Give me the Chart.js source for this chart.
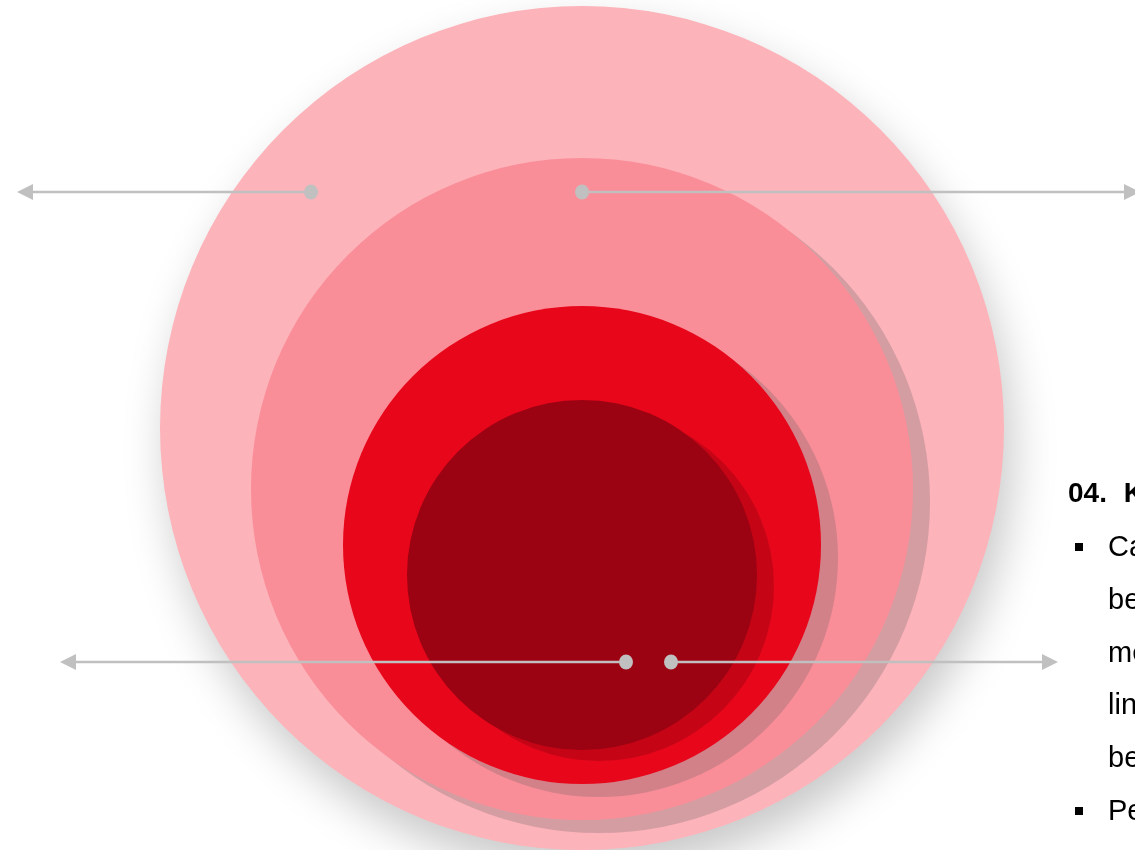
<!DOCTYPE html>
<html>
<head>
<meta charset="utf-8">
<script src="https://cdn.jsdelivr.net/npm/chart.js@4.4.1/dist/chart.umd.min.js"></script>
<style>
	html, body { margin: 0; padding: 0; background: #fff; overflow: hidden; }
	#wrap { position: relative; width: 1135px; height: 850px; overflow: hidden; }
	#chart { position: absolute; left: 0; top: 0; }
	#notes {
		position: absolute; left: 1068px; top: 473px;
		font-family: "Liberation Sans", Arial, sans-serif; color: #000;
		white-space: nowrap;
	}
	#notes .title { font-weight: bold; font-size: 28px; line-height: 40px; word-spacing: 9px; margin-bottom: 7px; }
	#notes .line { font-size: 29px; line-height: 52.8px; padding-left: 40px; position: relative; }
	#notes .sq { position: absolute; left: 7px; top: 23px; width: 8px; height: 8px; background: #000; }
</style>
</head>
<body>
<div id="wrap">
	<canvas id="chart" width="1135" height="850"></canvas>
	<div id="notes">
		<div class="title">04. Key findings</div>
		<div class="line"><span class="sq"></span>Campaign reach has</div>
		<div class="line">been growing steadily,</div>
		<div class="line">more than in the</div>
		<div class="line">linked segments that</div>
		<div class="line">benefit less</div>
		<div class="line"><span class="sq"></span>Performance remains</div>
	</div>
</div>
<script>
(() => {
	'use strict'

	// Circles (outer to inner), in the 1135 x 850 coordinate space
	const circleNames = ['Total', 'Segment A', 'Segment B', 'Core'];
	const circleX = [582, 582, 582, 582];
	const circleY = [428, 489, 545, 575];
	const circleR = [422, 331, 239, 175];
	const circleColors = ['#FDB3BA', '#FA8E98', '#E8061B', '#9C0312'];

	// Call-out arrows: start dot -> arrow head
	const arrowStartX = [311, 582, 626, 671];
	const arrowEndX = [17, 1140, 60, 1058];
	const arrowY = [192, 192, 662, 662];

	// Shadow style for each circle
	const shadows = [
		{ color: 'rgba(0,0,0,0.22)', blur: 45, dx: 8, dy: 22 },
		{ color: 'rgba(93,93,93,0.25)', blur: 0, dx: 17, dy: 13 },
		{ color: 'rgba(93,93,93,0.25)', blur: 0, dx: 17, dy: 13 },
		{ color: 'rgba(0,0,0,0.15)', blur: 0, dx: 17, dy: 11 }
	];

	// the chart area spans the whole canvas, 1 data unit = 1 pixel
	const datasets = circleNames.map((name, i) => ({
		label: name,
		data: [{ x: circleX[i], y: circleY[i], r: circleR[i] }],
		backgroundColor: circleColors[i],
		borderWidth: 0,
		clip: false,
		order: circleNames.length - i
	}));

	// Shadows drawn per dataset
	const shadowPlugin = {
		id: 'circleShadow',
		beforeDatasetDraw(chart, args) {
			const s = shadows[args.index];
			const ctx = chart.ctx;
			ctx.save();
			ctx.shadowColor = s.color;
			ctx.shadowBlur = s.blur;
			ctx.shadowOffsetX = s.dx;
			ctx.shadowOffsetY = s.dy;
		},
		afterDatasetDraw(chart) {
			chart.ctx.restore();
		}
	};

	// Grey call-out lines with dot and arrow head
	const arrowPlugin = {
		id: 'callouts',
		afterDatasetsDraw(chart) {
			const ctx = chart.ctx;
			const xs = chart.scales.x;
			const ys = chart.scales.y;
			ctx.save();
			ctx.strokeStyle = '#C0C0C0';
			ctx.fillStyle = '#C0C0C0';
			ctx.lineWidth = 2.5;
			for (let i = 0; i < arrowY.length; i++) {
				const x0 = xs.getPixelForValue(arrowStartX[i]);
				const x1 = xs.getPixelForValue(arrowEndX[i]);
				const y = ys.getPixelForValue(arrowY[i]);
				const dir = x1 > x0 ? 1 : -1;
				ctx.beginPath();
				ctx.moveTo(x0, y);
				ctx.lineTo(x1 - dir * 14, y);
				ctx.stroke();
				ctx.beginPath();
				ctx.moveTo(x1, y);
				ctx.lineTo(x1 - dir * 16, y - 8);
				ctx.lineTo(x1 - dir * 16, y + 8);
				ctx.closePath();
				ctx.fill();
				ctx.beginPath();
				ctx.ellipse(x0, y, 7, 7.5, 0, 0, Math.PI * 2);
				ctx.fill();
			}
			ctx.restore();
		}
	};

	new Chart(document.getElementById('chart'), {
		type: 'bubble',
		data: { datasets: datasets },
		options: {
			responsive: false,
			animation: false,
			events: [],
			layout: { padding: 0, autoPadding: false },
			scales: {
				x: { type: 'linear', min: 0, max: 1135, display: false },
				y: { type: 'linear', min: 0, max: 850, reverse: true, display: false }
			},
			plugins: {
				legend: { display: false },
				tooltip: { enabled: false },
				title: { display: false }
			}
		},
		plugins: [shadowPlugin, arrowPlugin]
	});
})()
</script>
</body>
</html>
